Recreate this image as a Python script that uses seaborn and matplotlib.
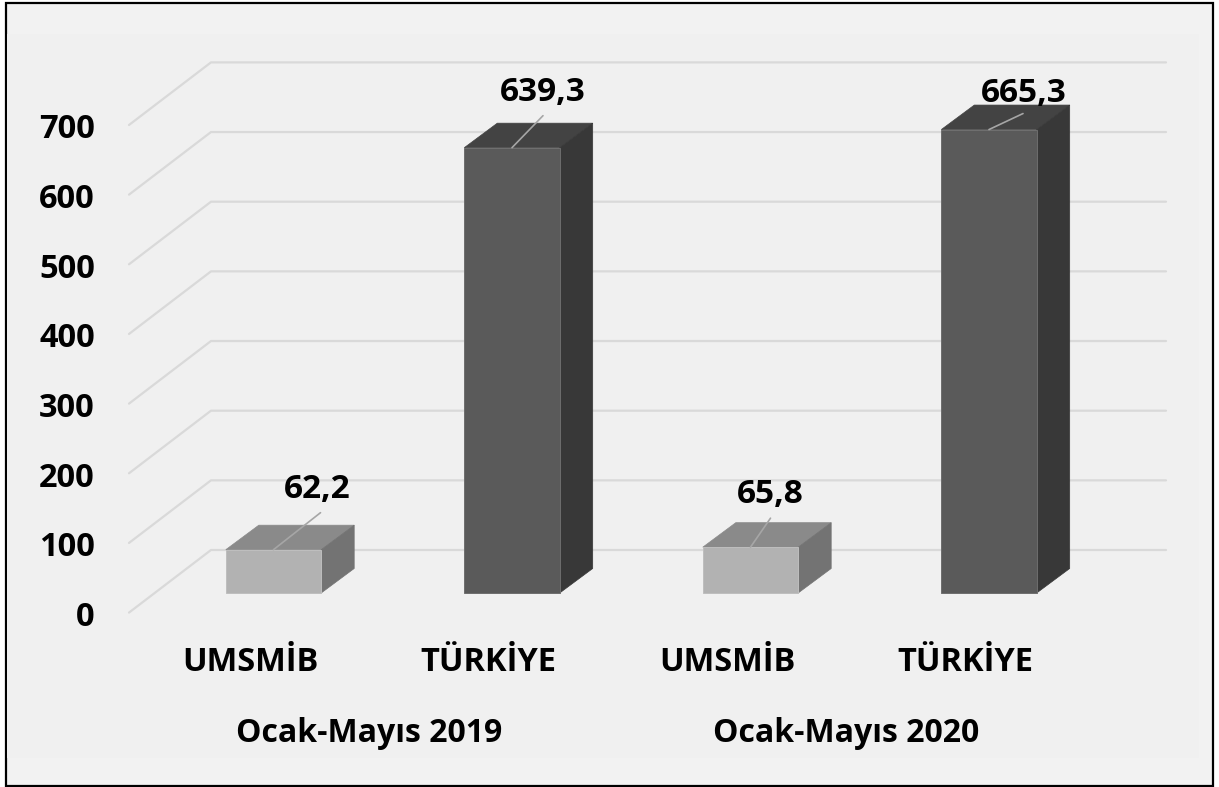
import pandas as pd
import seaborn as sns
import matplotlib.pyplot as plt
from matplotlib.patches import Polygon, Rectangle
from matplotlib.transforms import ScaledTranslation

# values
bar_keys = ['UMSMİB 2019', 'TÜRKİYE 2019', 'UMSMİB 2020', 'TÜRKİYE 2020']
bar_names = ['UMSMİB', 'TÜRKİYE', 'UMSMİB', 'TÜRKİYE']
bar_values = [62.2, 639.3, 65.8, 665.3]
value_labels = ['62,2', '639,3', '65,8', '665,3']
periods = ['Ocak-Mayıs 2019', 'Ocak-Mayıs 2020']
y_ticks = [0, 100, 200, 300, 400, 500, 600, 700]

front_colors = ['#B2B2B2', '#5A5A5A', '#B2B2B2', '#5A5A5A']
top_colors = ['#8A8A8A', '#434343', '#8A8A8A', '#434343']
side_colors = ['#737373', '#383838', '#737373', '#383838']
edge_colors = ['#BEBEBE', '#6E6E6E', '#BEBEBE', '#6E6E6E']

W, H = 1219, 787
BASE_Y = 593          # pixel row of value 0 on the bar fronts
PX_PER_VALUE = 0.6966
FIRST_X = 273.5       # pixel column of first bar centre
PX_PER_CAT = 238.5
AX_LEFT, AX_RIGHT, AX_TOP, AX_BOTTOM = 129, 1166, 40, 640


def x_val(px):
    return (px - FIRST_X) / PX_PER_CAT


def y_val(py):
    return (BASE_Y - py) / PX_PER_VALUE


sns.set_theme(style='white')
plt.rcParams['font.family'] = ['Open Sans', 'DejaVu Sans']

fig = plt.figure(figsize=(W / 100, H / 100), dpi=100, facecolor='white')

# outer frame and slightly darker inner panel
fig.add_artist(Rectangle((5.5 / W, 1 - 785.5 / H), 1207.5 / W, 783 / H, transform=fig.transFigure,
                         facecolor='#F2F2F2', edgecolor='black', linewidth=1.6, zorder=-2))
fig.add_artist(Rectangle((7 / W, 1 - 758 / H), 1192 / W, 724 / H, transform=fig.transFigure,
                         facecolor='#F0F0F0', edgecolor='none', zorder=-1))

ax = fig.add_axes([AX_LEFT / W, 1 - AX_BOTTOM / H, (AX_RIGHT - AX_LEFT) / W, (AX_BOTTOM - AX_TOP) / H])
ax.patch.set_alpha(0)

df = pd.DataFrame({'key': bar_keys, 'value': bar_values})
sns.barplot(data=df, x='key', y='value', hue='key', palette=front_colors, width=0.4,
            legend=False, ax=ax, zorder=3, saturation=1)
bars = list(ax.patches)
ax.set_xlim(x_val(AX_LEFT), x_val(AX_RIGHT))
ax.set_ylim(y_val(AX_BOTTOM), y_val(AX_TOP))
ax.set_xlabel('')
ax.set_ylabel('')
sns.despine(ax=ax, left=True, bottom=True)

# wall and side gridlines
back_dy = 43 / PX_PER_VALUE
front_dy = -19.6 / PX_PER_VALUE
wall_x = x_val(211)
for v in y_ticks:
    ax.plot([x_val(AX_LEFT), wall_x, x_val(AX_RIGHT)], [v + front_dy, v + back_dy, v + back_dy],
            color='#D9D9D9', linewidth=1.6, zorder=1, clip_on=False)

# fake 3D: top and side faces from each bar
depth_x = 33 / PX_PER_CAT
depth_y = 24.5 / PX_PER_VALUE
for i, bar in enumerate(bars):
    x0, x1 = bar.get_x(), bar.get_x() + bar.get_width()
    h = bar.get_height()
    bar.set_edgecolor(edge_colors[i])
    bar.set_linewidth(0.7)
    ax.add_patch(Polygon([(x0, h), (x1, h), (x1 + depth_x, h + depth_y), (x0 + depth_x, h + depth_y)],
                         facecolor=top_colors[i], edgecolor=top_colors[i], linewidth=0.5, zorder=2.9))
    ax.add_patch(Polygon([(x1, 0), (x1 + depth_x, depth_y), (x1 + depth_x, h + depth_y), (x1, h)],
                         facecolor=side_colors[i], edgecolor=side_colors[i], linewidth=0.5, zorder=2.9))

# value labels with leader lines, offsets in pixels from bar top centre
label_offsets = [(44, 60), (31, 55), (20, 53), (35, 36)]
leader_ends = [(47, 37), (31, 32), (20, 29), (34, 16)]
for i, bar in enumerate(bars):
    cx = bar.get_x() + bar.get_width() / 2
    h = bar.get_height()
    ax.annotate('', xy=(cx, h), xytext=leader_ends[i], textcoords='offset pixels',
                arrowprops=dict(arrowstyle='-', color='#A6A6A6', linewidth=1.2, shrinkA=0, shrinkB=0), zorder=4)
    ax.annotate(value_labels[i], xy=(cx, h), xytext=label_offsets[i], textcoords='offset pixels',
                ha='center', va='center', fontsize=24, fontweight='bold', color='black', zorder=5)

# tick labels sit on the front edge of the floor, not on the bars
ax.set_yticks(y_ticks)
ax.set_yticklabels([str(v) for v in y_ticks], fontsize=23.5, fontweight='bold', color='black')
ax.tick_params(axis='both', length=0)
ax.tick_params(axis='y', pad=24.5)
shift_y = ScaledTranslation(0, -20.5 / 100, fig.dpi_scale_trans)
for lab in ax.get_yticklabels():
    lab.set_transform(lab.get_transform() + shift_y)

ax.set_xticks(range(len(bar_names)))
ax.set_xticklabels(bar_names, fontsize=23.5, fontweight='bold', color='black')
ax.tick_params(axis='x', pad=4)
shift_x = ScaledTranslation(-23.5 / 100, 0, fig.dpi_scale_trans)
for lab in ax.get_xticklabels():
    lab.set_transform(lab.get_transform() + shift_x)

# period labels under each pair
for j, period in enumerate(periods):
    ax.text(j * 2 + 0.5 - 24 / PX_PER_CAT, y_val(733), period, ha='center', va='center',
            fontsize=23, fontweight='bold', color='black', clip_on=False)

fig.savefig('out.png', dpi=100)
